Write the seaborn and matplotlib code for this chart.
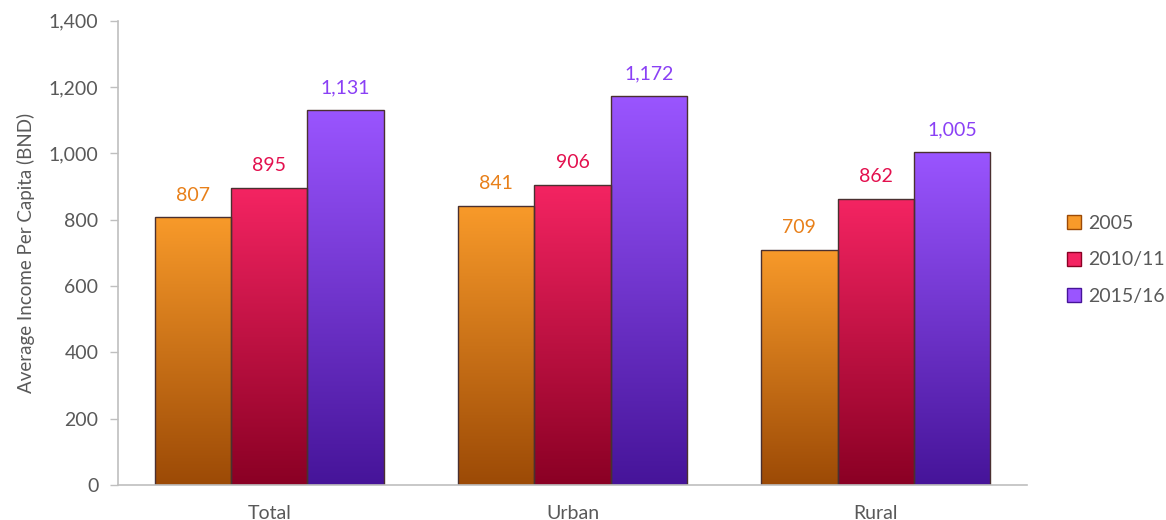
import numpy as np
import pandas as pd
import seaborn as sns
import matplotlib.pyplot as plt
from matplotlib.colors import LinearSegmentedColormap
from matplotlib.patches import Patch

areas = ['Total', 'Urban', 'Rural']
years = ['2005', '2010/11', '2015/16']
v2005 = [807, 841, 709]
v2010 = [895, 906, 862]
v2015 = [1131, 1172, 1005]

top_cols = ['#F89A2A', '#F42462', '#9A55FF']
bot_cols = ['#9C4A06', '#8A0024', '#461499']
label_cols = ['#E8801A', '#E3104E', '#8A40F5']

df = pd.DataFrame({
    'area': areas * 3,
    'year': [y for y in years for _ in areas],
    'value': v2005 + v2010 + v2015,
})

sns.set_theme(style='white')
plt.rcParams['font.family'] = ['Lato', 'DejaVu Sans']

fig = plt.figure(figsize=(11.66, 5.2), dpi=100)
ax = fig.add_axes([0.101, 0.067, 0.78, 0.893])
sns.barplot(data=df, x='area', y='value', hue='year', order=areas,
            hue_order=years, palette=top_cols, width=0.755,
            edgecolor='#4a3030', linewidth=1.0, ax=ax, legend=False)

ax.set_xlabel('')
ax.set_ylabel('Average Income Per Capita (BND)', fontsize=13.5, color='#595959',
              labelpad=10)
ax.tick_params(axis='y', left=True, length=6, width=1, color='#BFBFBF',
               labelsize=14, labelcolor='#595959', pad=8)
ax.tick_params(axis='x', bottom=False, labelsize=14, labelcolor='#595959', pad=8)
for s in ['top', 'right']:
    ax.spines[s].set_visible(False)
for s in ['left', 'bottom']:
    ax.spines[s].set_color('#BFBFBF')
    ax.spines[s].set_linewidth(1.2)

# gradient fill inside each bar
for i, cont in enumerate(ax.containers):
    cmap = LinearSegmentedColormap.from_list(f'g{i}', [bot_cols[i], top_cols[i]])
    grad = np.linspace(0, 1, 256).reshape(-1, 1)
    for bar in cont:
        x0, y0 = bar.get_x(), bar.get_y()
        w, h = bar.get_width(), bar.get_height()
        im = ax.imshow(grad, cmap=cmap, aspect='auto', origin='lower',
                       extent=[x0, x0 + w, y0, y0 + h], zorder=bar.get_zorder())
        im.set_clip_path(bar)
        bar.set_facecolor('none')
        bar.set_zorder(bar.get_zorder() + 0.1)
    ax.bar_label(cont, labels=[f'{int(v):,}' for v in cont.datavalues],
                 padding=10, fontsize=14, color=label_cols[i])

ax.set_xlim(-0.5, 2.5)
ax.set_ylim(0, 1400)
ax.set_yticks(range(0, 1401, 200))
ax.yaxis.set_major_formatter(plt.FuncFormatter(lambda v, p: f'{int(v):,}'))

handles = [Patch(facecolor=top_cols[i], edgecolor=bot_cols[i], label=years[i])
           for i in range(3)]
leg = fig.legend(handles=handles, loc='center left', bbox_to_anchor=(0.9, 0.5),
                 frameon=False, fontsize=14, handlelength=0.7, handleheight=0.7,
                 labelspacing=1.0, handletextpad=0.4)
for t in leg.get_texts():
    t.set_color('#595959')

fig.savefig('out.png', dpi=100)
